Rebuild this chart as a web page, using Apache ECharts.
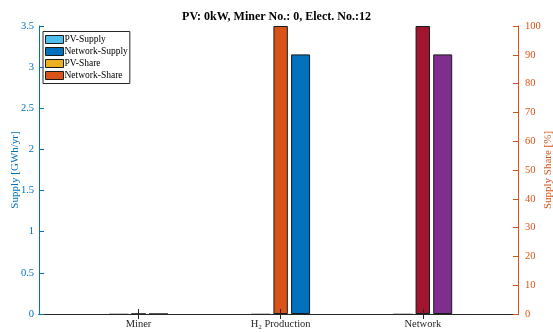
<!DOCTYPE html>
<html><head><meta charset="utf-8">
<script src="https://cdn.jsdelivr.net/npm/echarts@6/dist/echarts.min.js"></script>
<style>html,body{margin:0;padding:0;background:#fff}#c{width:553px;height:332px}</style>
</head><body><div id="c"></div>
<script>
const categories = ['Miner', 'H\u2082 Production', 'Network'];
const categoryPos = [1, 2, 3];
const pvSupply = [0, 0, 0];
const networkSupply = [0, 3.155, 3.155];
const pvShare = [0, 0, 0];
const networkShare = [0, 100, 100];
const supplyTicks = [0, 0.5, 1, 1.5, 2, 2.5, 3, 3.5];
const shareTicks = [0, 10, 20, 30, 40, 50, 60, 70, 80, 90, 100];
const titleText = 'PV: 0kW, Miner No.: 0, Elect. No.:12';

const FONT = 'Liberation Serif';
const BLUE = '#0072BD', ORANGE = '#D95319';
const lastCatColors = { supply: '#7E2F8E', share: '#A2142F' };

function pts(vals, overrideColor) {
  return vals.map((v, i) => {
    const d = { value: [categoryPos[i], v] };
    if (overrideColor && i === vals.length - 1) d.itemStyle = { color: overrideColor };
    return d;
  });
}

const chart = echarts.init(document.getElementById('c'), null, { renderer: 'canvas' });
const edge = { borderColor: '#1a1a1a', borderWidth: 1 };
const grayEdge = { borderColor: '#b0b0b0', borderWidth: 1 };

chart.setOption({
  animation: false,
  textStyle: { fontFamily: FONT },
  title: {
    text: titleText, left: 'center', top: 6,
    textStyle: { fontFamily: FONT, fontSize: 12, fontWeight: 'bold', color: '#000' }
  },
  legend: {
    orient: 'vertical', left: 43, top: 31.5, icon: 'rect',
    itemWidth: 18, itemHeight: 8, itemGap: 2,
    padding: [3, 2, 3, 2],
    borderColor: '#262626', borderWidth: 1, backgroundColor: '#fff',
    textStyle: { fontFamily: FONT, fontSize: 9.5, color: '#000', padding: [0, 0, 0, -4] },
    data: ['PV-Supply', 'Network-Supply', 'PV-Share', 'Network-Share'],
    itemStyle: { borderColor: '#1a1a1a', borderWidth: 1 }
  },
  grid: { left: 39, right: 35, top: 26, bottom: 18, containLabel: false, outerBoundsMode: 'none' },
  xAxis: [
    {
      type: 'value', min: 0.3, max: 3.67, position: 'bottom', z: 5,
      splitLine: { show: false },
      axisLine: { show: true, lineStyle: { color: '#262626', width: 1 } },
      axisTick: { show: true, inside: true, length: 5, customValues: categoryPos, lineStyle: { color: '#262626' } },
      axisLabel: {
        show: true, margin: 5, customValues: categoryPos,
        formatter: v => categories[categoryPos.indexOf(Math.round(v))] || '',
        fontFamily: FONT, fontSize: 10.5, color: '#262626'
      }
    },
    {
      type: 'value', min: 0.3, max: 3.67, position: 'top', z: 5,
      splitLine: { show: false },
      axisLine: { show: true, lineStyle: { color: '#262626', width: 1 } },
      axisTick: { show: true, inside: true, length: 5, customValues: categoryPos, lineStyle: { color: '#262626' } },
      axisLabel: { show: false }
    }
  ],
  yAxis: [
    {
      type: 'value', min: 0, max: 3.5, interval: 0.5, position: 'left', z: 5,
      name: 'Supply [GWh/yr]', nameLocation: 'middle', nameGap: 18, nameMoveOverlap: false,
      nameTextStyle: { fontFamily: FONT, fontSize: 11, color: BLUE },
      splitLine: { show: false },
      axisLine: { show: true, lineStyle: { color: BLUE, width: 1 } },
      axisTick: { show: true, inside: true, length: 5, lineStyle: { color: BLUE } },
      axisLabel: { margin: 5, fontFamily: FONT, fontSize: 10.5, color: BLUE,
        formatter: v => String(+v.toFixed(1)) }
    },
    {
      type: 'value', min: 0, max: 100, interval: 10, position: 'right', z: 5,
      name: 'Supply Share [%]', nameLocation: 'middle', nameGap: 25, nameMoveOverlap: false,
      nameTextStyle: { fontFamily: FONT, fontSize: 11, color: ORANGE },
      splitLine: { show: false },
      axisLine: { show: true, lineStyle: { color: ORANGE, width: 1 } },
      axisTick: { show: true, inside: true, length: 5, lineStyle: { color: ORANGE } },
      axisLabel: { margin: 7, fontFamily: FONT, fontSize: 10.5, color: ORANGE }
    }
  ],
  series: [
    { name: 'PV-Supply', type: 'bar', xAxisIndex: 0, yAxisIndex: 0, barWidth: 19, barGap: '110%',
      itemStyle: Object.assign({ color: '#4DBEEE' }, grayEdge), data: pts(pvSupply) },
    { name: 'Network-Supply', type: 'bar', xAxisIndex: 0, yAxisIndex: 0, barWidth: 19, barGap: '110%',
      itemStyle: Object.assign({ color: BLUE }, edge), data: pts(networkSupply, lastCatColors.supply) },
    { name: 'PV-Share', type: 'bar', xAxisIndex: 1, yAxisIndex: 1, barWidth: 14.4, stack: 'share',
      itemStyle: Object.assign({ color: '#EDB120' }, grayEdge), data: pts(pvShare) },
    { name: 'Network-Share', type: 'bar', xAxisIndex: 1, yAxisIndex: 1, barWidth: 14.4, stack: 'share',
      itemStyle: Object.assign({ color: ORANGE }, edge), data: pts(networkShare, lastCatColors.share) }
  ]
});
</script></body></html>
